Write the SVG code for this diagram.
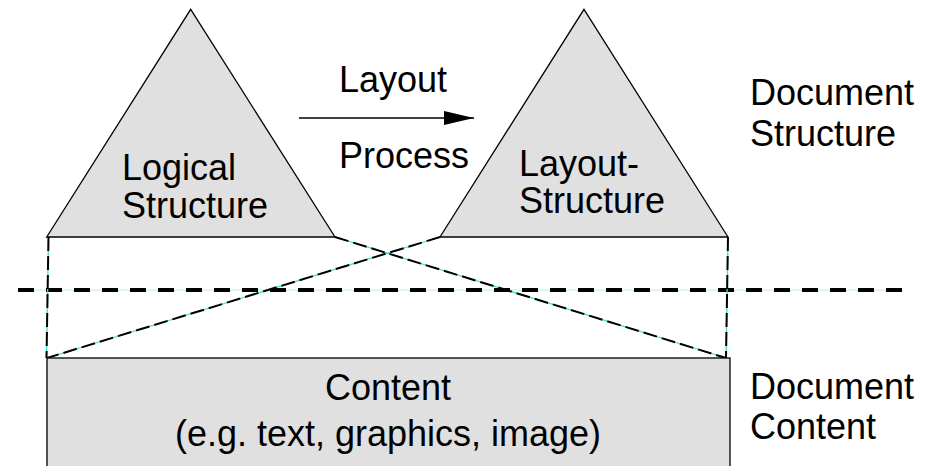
<svg xmlns="http://www.w3.org/2000/svg" width="939" height="466" viewBox="0 0 939 466">
  <style>
    .shape { fill: #e0e0e0; stroke: #000; stroke-width: 1.3; }
    .label { font-family: "Liberation Sans", Arial, Helvetica, sans-serif; font-size: 36px; fill: #000; }
    .mid { text-anchor: middle; }
    .guide { fill: none; stroke: #40e0d0; stroke-width: 1.3; }
    .dash { fill: none; stroke: #000; stroke-width: 2; stroke-dasharray: 14 5; }
    .divider-guide { fill: none; stroke: #b4f2e8; stroke-width: 1.2; }
    .divider { fill: none; stroke: #000; stroke-width: 4; stroke-dasharray: 16 12; }
  </style>
  <defs>
    <marker id="arrowhead" markerWidth="30" markerHeight="14" refX="30" refY="7" orient="auto" markerUnits="userSpaceOnUse">
      <polygon points="0,0 30,7 0,14" fill="#000"/>
    </marker>
  </defs>

  <rect width="939" height="466" fill="#fff"/>

  <!-- projection lines between the structures and the content -->
  <g id="connectors">
    <line class="divider-guide" x1="18" y1="290" x2="903" y2="290"/>
    <line class="divider" x1="18" y1="290" x2="903" y2="290"/>

    <g id="projections">
      <line class="guide" x1="48.5" y1="237" x2="46.5" y2="358"/>
      <line class="dash" x1="48.5" y1="237" x2="46.5" y2="358"/>
      <line class="guide" x1="728" y1="237" x2="726" y2="358"/>
      <line class="dash" x1="728" y1="237" x2="726" y2="358"/>
      <line class="guide" x1="335" y1="237" x2="726" y2="358"/>
      <line class="dash" x1="335" y1="237" x2="726" y2="358"/>
      <line class="guide" x1="440" y1="237" x2="47" y2="358"/>
      <line class="dash" x1="440" y1="237" x2="47" y2="358"/>
    </g>

    <g id="layout-process">
      <line x1="299" y1="118" x2="474" y2="118" stroke="#000" stroke-width="1.3" marker-end="url(#arrowhead)"/>
      <text class="label mid" x="393" y="92">Layout</text>
      <text class="label mid" x="404" y="168">Process</text>
    </g>
  </g>

  <g id="logical-structure">
    <polygon class="shape" points="190.7,9.3 335,237 46.7,237"/>
    <text class="label" x="122" y="180">Logical</text>
    <text class="label" x="122" y="218">Structure</text>
  </g>

  <g id="layout-structure">
    <polygon class="shape" points="584,9.3 728,237 440,237"/>
    <text class="label" x="519" y="176">Layout-</text>
    <text class="label" x="519" y="213">Structure</text>
  </g>

  <g id="content">
    <rect class="shape" x="47" y="358" width="683" height="120"/>
    <text class="label mid" x="388" y="400">Content</text>
    <text class="label mid" x="388" y="446">(e.g. text, graphics, image)</text>
  </g>

  <g id="document-structure">
    <text class="label" x="750" y="105">Document</text>
    <text class="label" x="750" y="146">Structure</text>
  </g>

  <g id="document-content">
    <text class="label" x="750" y="399">Document</text>
    <text class="label" x="750" y="439">Content</text>
  </g>
</svg>
